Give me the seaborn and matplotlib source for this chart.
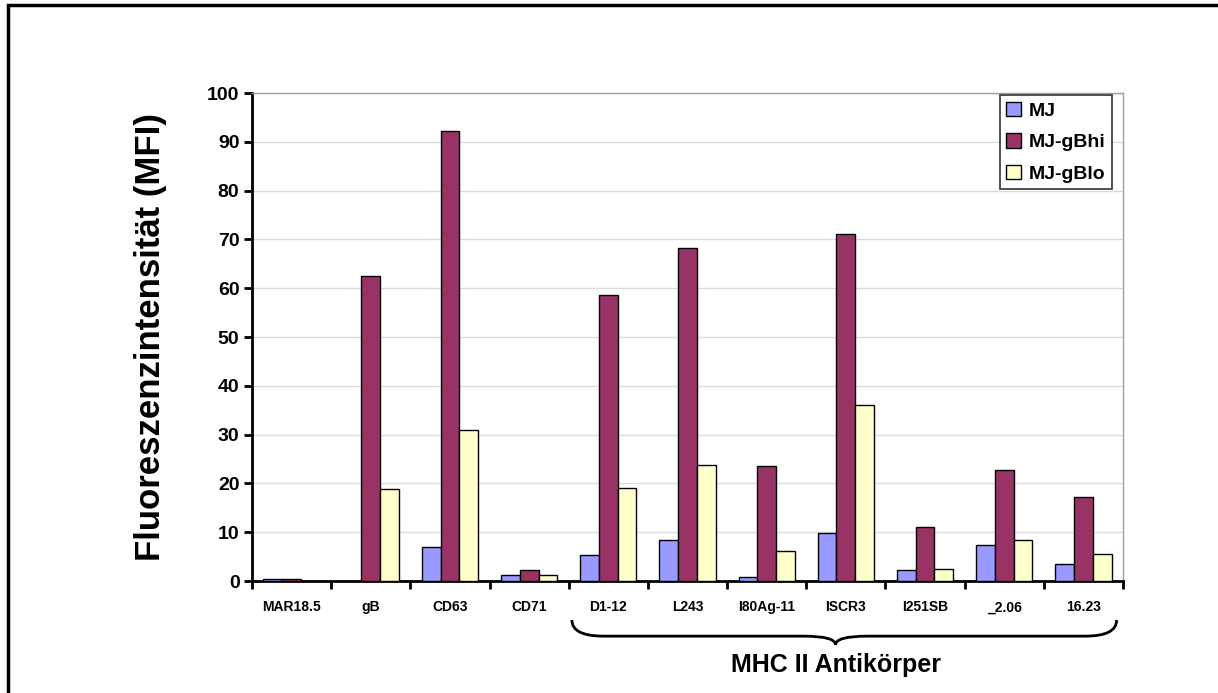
import numpy as np
import pandas as pd
import matplotlib
matplotlib.use("Agg")
import matplotlib.pyplot as plt
import seaborn as sns
from matplotlib.path import Path
from matplotlib.patches import PathPatch, Rectangle
from matplotlib.transforms import blended_transform_factory

antikoerper = ["MAR18.5", "gB", "CD63", "CD71", "D1-12", "L243",
               "I80Ag-11", "ISCR3", "I251SB", "_2.06", "16.23"]
zelllinien = ["MJ", "MJ-gBhi", "MJ-gBlo"]
mfi_mj = [0.5, 0.0, 7.0, 1.2, 5.3, 8.3, 0.8, 9.8, 2.2, 7.3, 3.4]
mfi_gbhi = [0.5, 62.5, 92.2, 2.2, 58.6, 68.2, 23.5, 71.2, 11.1, 22.7, 17.2]
mfi_gblo = [0.0, 18.8, 31.0, 1.2, 19.1, 23.8, 6.1, 36.0, 2.5, 8.3, 5.6]
farben = ["#9999FF", "#993366", "#FFFFCC"]

df = pd.DataFrame({"Antikoerper": antikoerper * 3,
                   "Linie": np.repeat(zelllinien, len(antikoerper)),
                   "MFI": mfi_mj + mfi_gbhi + mfi_gblo})

sns.set_style("white")
plt.rcParams["font.family"] = ["Liberation Sans", "DejaVu Sans"]
plt.rcParams["font.weight"] = "bold"
for k in ["text.color", "axes.labelcolor", "xtick.color", "ytick.color"]:
    plt.rcParams[k] = "black"

fig = plt.figure(figsize=(12.18, 6.93), dpi=100)
ax = fig.add_axes([252 / 1218, 1 - 581 / 693, 871 / 1218, 488 / 693])

sns.barplot(data=df, x="Antikoerper", y="MFI", hue="Linie", order=antikoerper,
            hue_order=zelllinien, palette=farben, width=0.71, ax=ax,
            edgecolor="black", linewidth=1.0, saturation=1, zorder=3)

ax.set_xlim(-0.5, len(antikoerper) - 0.5)
ax.set_ylim(0, 100)
ax.set_yticks(range(0, 101, 10))
ax.yaxis.grid(True, color="#dcdcdc", linewidth=1, zorder=0)
ax.set_axisbelow(True)

for s in ["top", "right"]:
    ax.spines[s].set_color("#a0a0a0")
    ax.spines[s].set_linewidth(1)
ax.spines["left"].set_color("black")
ax.spines["left"].set_linewidth(2)
ax.spines["bottom"].set_color("black")
ax.spines["bottom"].set_linewidth(2)

ax.tick_params(axis="y", direction="out", length=6, width=2, color="black",
               left=True, labelsize=14, pad=3)
ax.set_xticks(np.arange(-0.5, len(antikoerper)), minor=True)
ax.tick_params(axis="x", which="minor", direction="out", length=6, width=2,
               color="black", bottom=True)
ax.tick_params(axis="x", which="major", length=0, labelsize=10, pad=14)
for lbl in ax.get_xticklabels() + ax.get_yticklabels():
    lbl.set_fontweight("bold")

ax.set_xlabel("")
ax.set_ylabel("Fluoreszenzintensität (MFI)", fontsize=25, fontweight="bold")
ax.yaxis.set_label_coords(-0.098, 0.5)

leg = ax.legend(loc="upper right", bbox_to_anchor=(0.99, 1.0), frameon=True,
                fancybox=False, edgecolor="black", fontsize=14,
                handlelength=0.75, handleheight=0.75, handletextpad=0.4,
                borderpad=0.35, labelspacing=0.7, borderaxespad=0.1)
leg.get_frame().set_linewidth(1.2)
for t in leg.get_texts():
    t.set_fontweight("bold")

# geschweifte Klammer unter den MHC II Antikoerpern
trans = blended_transform_factory(ax.transData, ax.transAxes)
x0, x1, xc = 3.54, 10.42, 6.87
y0, ym, yt = -0.08, -0.113, -0.131
a = 0.4
verts = [(x0, y0), (x0, ym), (x0 + a, ym), (xc - a, ym), (xc, ym), (xc, yt),
         (xc, ym), (xc + a, ym), (x1 - a, ym), (x1, ym), (x1, y0)]
codes = [Path.MOVETO, Path.CURVE3, Path.CURVE3, Path.LINETO, Path.CURVE3,
         Path.CURVE3, Path.CURVE3, Path.CURVE3, Path.LINETO, Path.CURVE3,
         Path.CURVE3]
ax.add_patch(PathPatch(Path(verts, codes), transform=trans, fill=False,
                       edgecolor="black", linewidth=2, clip_on=False))
ax.text(xc, -0.172, "MHC II Antikörper", transform=trans, ha="center",
        va="center", fontsize=18, fontweight="bold")

# Rahmen um die Grafik
fig.patches.append(Rectangle((8 / 1218, -0.1), 1.1, 1 - 5 / 693 + 0.1,
                             transform=fig.transFigure, fill=False,
                             edgecolor="black", linewidth=2.5))

fig.savefig("out.png", dpi=100)
